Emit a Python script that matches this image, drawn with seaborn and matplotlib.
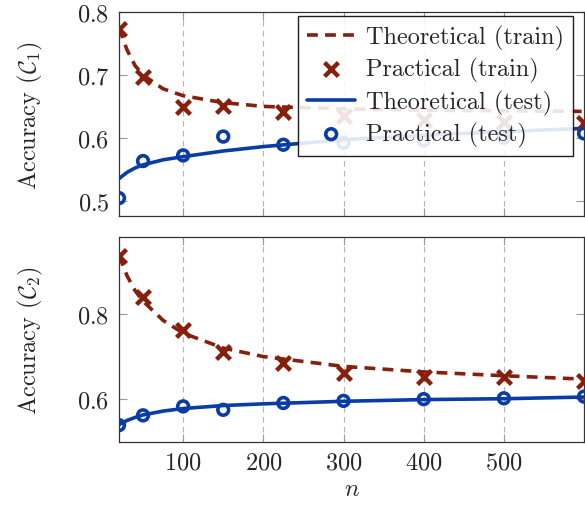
"""
Theoretical vs practical accuracy for two classifiers
"""

import matplotlib

matplotlib.use("Agg")

import matplotlib.pyplot as plt
import pandas as pd
import seaborn as sns

# =========================================================
# Data
# =========================================================

N_PRACTICAL = [20, 50, 100, 150, 225, 300, 400, 500, 600]
N_THEORY = [20, 30, 40, 50, 75, 100, 150, 200, 300, 400, 500, 600]

C1_TRAIN_THEORY = [0.775, 0.740, 0.715, 0.700, 0.678, 0.667, 0.656, 0.650, 0.646, 0.644, 0.643, 0.642]
C1_TEST_THEORY = [0.535, 0.545, 0.552, 0.557, 0.565, 0.570, 0.579, 0.586, 0.597, 0.604, 0.610, 0.615]
C1_TRAIN_PRACT = [0.773, 0.697, 0.649, 0.651, 0.641, 0.634, 0.628, 0.625, 0.623]
C1_TEST_PRACT = [0.504, 0.563, 0.572, 0.602, 0.589, 0.592, 0.596, 0.600, 0.607]

C2_TRAIN_THEORY = [0.937, 0.890, 0.855, 0.830, 0.785, 0.755, 0.720, 0.700, 0.677, 0.664, 0.655, 0.647]
C2_TEST_THEORY = [0.540, 0.550, 0.557, 0.563, 0.572, 0.578, 0.585, 0.589, 0.595, 0.599, 0.601, 0.605]
C2_TRAIN_PRACT = [0.937, 0.839, 0.762, 0.710, 0.684, 0.661, 0.651, 0.651, 0.643]
C2_TEST_PRACT = [0.539, 0.562, 0.583, 0.575, 0.591, 0.596, 0.600, 0.602, 0.606]

X_TICKS = [100, 200, 300, 400, 500]
Y_LABELS = [r"Accuracy ($\mathcal{C}_1$)", r"Accuracy ($\mathcal{C}_2$)"]

# =========================================================
# Plot Settings
# =========================================================

RED = "#86200C"
BLUE = "#0A3CA5"
FONT = 17.5

sns.set_theme(style="white")
plt.rcParams["font.family"] = ["cmr10", "DejaVu Serif"]
plt.rcParams["mathtext.fontset"] = "cm"
plt.rcParams["axes.formatter.use_mathtext"] = True
plt.rcParams["font.size"] = FONT


def draw_panel(ax, train_th, test_th, train_pr, test_pr):

    theory = pd.DataFrame({"n": N_THEORY, "train": train_th, "test": test_th})
    pract = pd.DataFrame({"n": N_PRACTICAL, "train": train_pr, "test": test_pr})

    sns.lineplot(
        data=theory, x="n", y="train", ax=ax,
        color=RED, linewidth=2.6,
        label="Theoretical (train)",
    )
    ax.lines[-1].set_dashes((3.0, 2.0))

    sns.scatterplot(
        data=pract, x="n", y="train", ax=ax,
        marker="x", s=100, linewidth=3.2, color=RED,
        label="Practical (train)", zorder=4,
    )

    sns.lineplot(
        data=theory, x="n", y="test", ax=ax,
        color=BLUE, linewidth=2.6,
        label="Theoretical (test)",
    )

    sns.scatterplot(
        data=pract, x="n", y="test", ax=ax,
        marker="o", s=60, linewidth=2.6,
        facecolor="none", edgecolor=BLUE,
        label="Practical (test)", zorder=4,
    )

    ax.set_xlim(20, 600)
    ax.set_xticks(X_TICKS)
    ax.grid(axis="x", color="#b4b4b4", linestyle=(0, (5, 4)), linewidth=0.8)
    ax.tick_params(
        direction="in", length=6, width=0.8, color="#9a9a9a",
        top=True, right=True, bottom=True, left=True,
        labelsize=FONT, pad=7,
    )
    for spine in ax.spines.values():
        spine.set_color("#333333")
        spine.set_linewidth(0.9)


# =========================================================
# Figure
# =========================================================

fig = plt.figure(figsize=(5.85, 5.06), dpi=100)

ax_top = fig.add_axes([0.2034, 0.5717, 0.795, 0.4023])
ax_bot = fig.add_axes([0.2034, 0.1250, 0.795, 0.4040])

draw_panel(ax_top, C1_TRAIN_THEORY, C1_TEST_THEORY, C1_TRAIN_PRACT, C1_TEST_PRACT)
draw_panel(ax_bot, C2_TRAIN_THEORY, C2_TEST_THEORY, C2_TRAIN_PRACT, C2_TEST_PRACT)

ax_top.set_ylim(0.476, 0.80)
ax_top.set_yticks([0.5, 0.6, 0.7, 0.8])
ax_top.set_xticklabels([])
ax_top.set_xlabel("")
ax_top.set_ylabel(Y_LABELS[0], fontsize=FONT, labelpad=23)

ax_bot.set_ylim(0.50, 0.98)
ax_bot.set_yticks([0.6, 0.8])
ax_bot.set_xlabel(r"$n$", fontsize=FONT, labelpad=3)
ax_bot.set_ylabel(Y_LABELS[1], fontsize=FONT, labelpad=23)

ax_bot.get_legend().remove()

leg = ax_top.legend(
    loc="upper right",
    bbox_to_anchor=(0.976, 0.98),
    borderaxespad=0,
    fontsize=FONT,
    frameon=True,
    fancybox=False,
    framealpha=0.88,
    edgecolor="black",
    handlelength=2.0,
    handletextpad=0.45,
    labelspacing=0.3,
    borderpad=0.35,
)
leg.get_frame().set_linewidth(1.0)
leg.set_zorder(10)

fig.savefig("out.png", dpi=100)
plt.close(fig)
